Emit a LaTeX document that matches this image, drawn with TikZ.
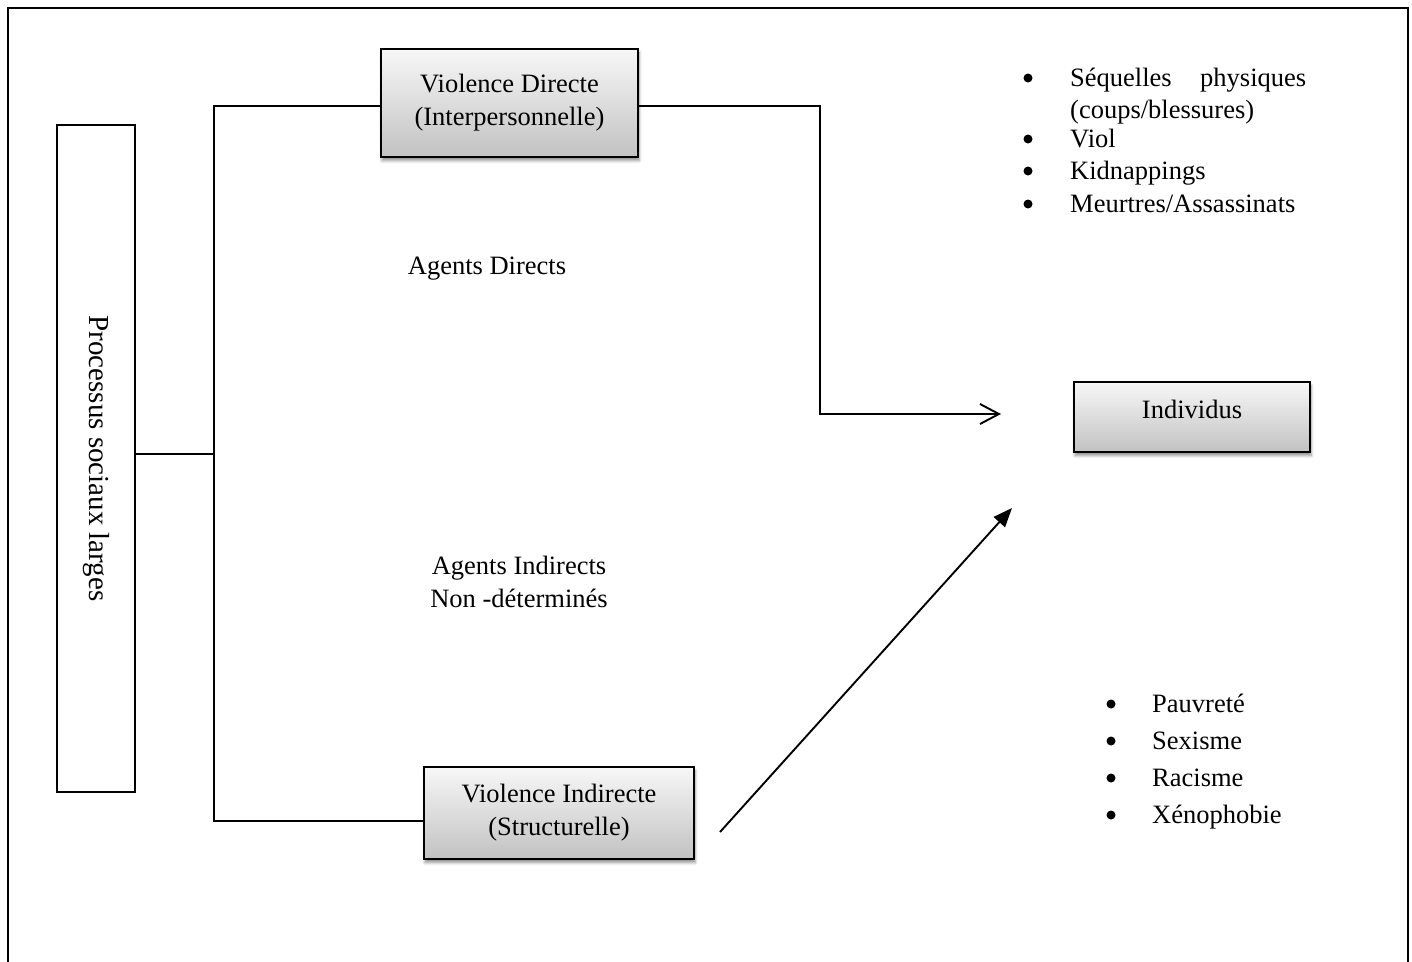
\documentclass[tikz,border=0pt]{standalone}
\usepackage{fontspec}
\setmainfont{Liberation Serif}
\usetikzlibrary{arrows.meta,shadows.blur,calc}
\begin{document}
\begin{tikzpicture}[x=1pt,y=-1pt,
  txt/.style={font=\fontsize{26.5}{33}\selectfont, inner sep=0pt},
  gbox/.style={txt, draw, line width=1.9pt, top color=gray!6, bottom color=gray!48,
    align=center,
    blur shadow={shadow xshift=1pt, shadow yshift=-3.5pt, shadow blur radius=3pt, shadow opacity=45}},
  link/.style={line width=1.9pt},
  dot/.style={circle, fill, inner sep=0pt, minimum size=9pt}]
\useasboundingbox (0,0) rectangle (1412,961);
% outer frame
\draw[line width=2pt] (8,965) -- (8,8) -- (1408,8) -- (1408,965);

% boxes
\node[txt, font=\fontsize{29}{35}\selectfont, draw, line width=1.9pt, rotate=-90,
  minimum width=667pt, minimum height=78pt]
  (psl) at (96,458.5) {Processus sociaux larges};
\node[gbox, minimum width=257pt, minimum height=108pt] (vd) at (509.5,103)
  {Violence Directe\\(Interpersonnelle)};
\node[gbox, minimum width=236pt, minimum height=70pt, text height=18pt, text depth=14.4pt]
  (ind) at (1192,417) {Individus};
\node[gbox, minimum width=270pt, minimum height=92pt] (vi) at (559,813)
  {Violence Indirecte\\(Structurelle)};

% free labels
\node[txt] (ad) at (487,269) {Agents Directs};
\node[txt, align=center] (ai) at (519,582) {Agents Indirects\\Non -déterminés};

% connector points
\coordinate (st) at (214,106);
\coordinate (sb) at (214,821);
\coordinate (jn) at (214,454);
\coordinate (bend) at (820,106);
\coordinate (elbow) at (820,414);
\coordinate (tip) at (1001,414);
\coordinate (ds) at (720,832);
\coordinate (dt) at (1012,508);

% connectors
\draw[link] (vd.west |- st) -- (st) -- (sb) -- (vi.west |- sb);
\draw[link] (psl.north |- jn) -- (jn);
\draw[link, -{Straight Barb[length=19pt,width=20pt]}] (vd.east |- bend) -- (bend) -- (elbow) -- (tip);
\draw[link, -{Triangle[length=19pt,width=15pt]}] (ds) -- (dt);

% consequences of direct violence
\node[dot] (b1) at (1028,78) {};
\node[txt, anchor=base west] (s1) at (1070,86) {\makebox[236pt][s]{Séquelles physiques}};
\node[txt, anchor=base west] (s1b) at (1070,118) {(coups/blessures)};
\node[dot] (b2) at (1028,139) {};
\node[txt, anchor=base west] (s2) at (1070,147) {Viol};
\node[dot] (b3) at (1028,171) {};
\node[txt, anchor=base west] (s3) at (1070,179) {Kidnappings};
\node[dot] (b4) at (1028,204) {};
\node[txt, anchor=base west] (s4) at (1070,212) {Meurtres/Assassinats};

% forms of structural violence
\node[dot] (c1) at (1111,704) {};
\node[txt, anchor=base west] (p1) at (1152,712) {Pauvreté};
\node[dot] (c2) at (1111,741) {};
\node[txt, anchor=base west] (p2) at (1152,749) {Sexisme};
\node[dot] (c3) at (1111,778) {};
\node[txt, anchor=base west] (p3) at (1152,786) {Racisme};
\node[dot] (c4) at (1111,815) {};
\node[txt, anchor=base west] (p4) at (1152,823) {Xénophobie};
\end{tikzpicture}
\end{document}
